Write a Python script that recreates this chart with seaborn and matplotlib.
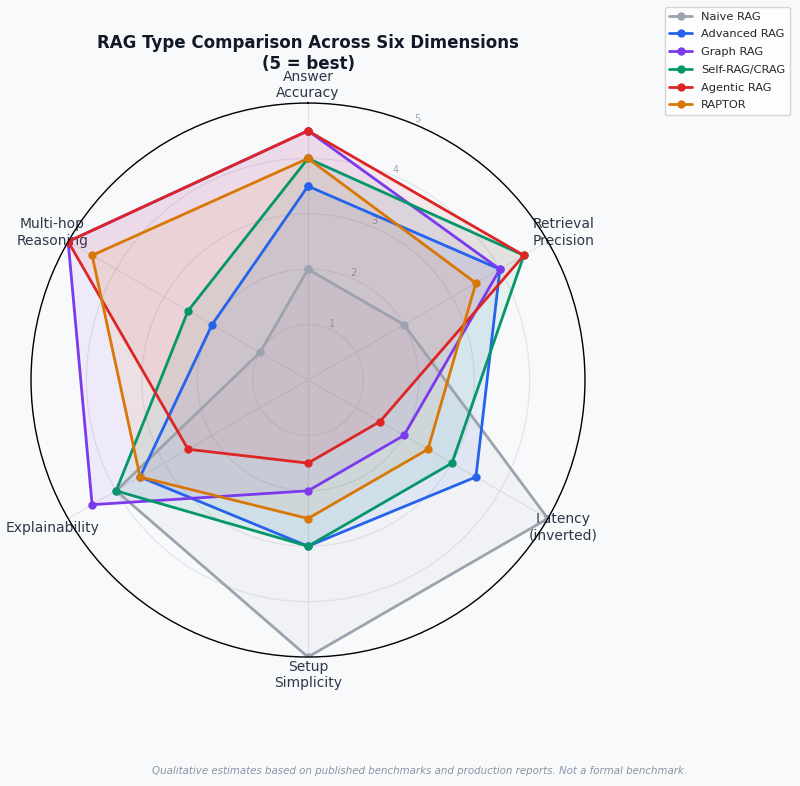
import numpy as np
import pandas as pd
import matplotlib
matplotlib.use("Agg")
import matplotlib.pyplot as plt
import seaborn as sns

# radar axes, clockwise from the top
dimensions = ['Answer\nAccuracy', 'Retrieval\nPrecision', 'Latency\n(inverted)',
              'Setup\nSimplicity', 'Explainability', 'Multi-hop\nReasoning']

rag_types = ['Naive RAG', 'Advanced RAG', 'Graph RAG', 'Self-RAG/CRAG', 'Agentic RAG', 'RAPTOR']

naive_rag = [2, 2, 5, 5, 4, 1]
advanced_rag = [3.5, 4, 3.5, 3, 3.5, 2]
graph_rag = [4.5, 4, 2, 2, 4.5, 5]
self_crag = [4, 4.5, 3, 3, 4, 2.5]
agentic_rag = [4.5, 4.5, 1.5, 1.5, 2.5, 5]
raptor = [4, 3.5, 2.5, 2.5, 3.5, 4.5]

colors = ['#9ca3af', '#2563eb', '#7c3aed', '#059669', '#dc2626', '#d97706']

scores = [naive_rag, advanced_rag, graph_rag, self_crag, agentic_rag, raptor]

bg = '#f8f9fb'
sns.set_theme(style='white')
plt.rcParams['font.family'] = ['DejaVu Sans']

angles = np.linspace(0, 2 * np.pi, len(dimensions), endpoint=False)
closed_angles = np.append(angles, angles[0])

fig = plt.figure(figsize=(8, 7.86), dpi=100, facecolor=bg)
ax = fig.add_axes([0.03875, 0.1641, 0.6925, 0.7048], projection='polar', facecolor=bg)
ax.set_theta_offset(np.pi / 2)
ax.set_theta_direction(-1)

for name, vals, c in zip(rag_types, scores, colors):
    closed = vals + vals[:1]
    df = pd.DataFrame({'theta': closed_angles, 'score': closed})
    # points sitting on the outer ring show no dot in the original
    keep = [i for i, v in enumerate(closed) if v < 5]
    sns.lineplot(data=df, x='theta', y='score', sort=False, estimator=None,
                 color=c, marker='o', markersize=6, markeredgewidth=0,
                 markevery=keep, linewidth=2, label=name, ax=ax)
    ax.fill(closed_angles, closed, color=c, alpha=0.08, zorder=1)

ax.set_ylim(0, 5)
ax.set_yticks([1, 2, 3, 4, 5])
ax.set_yticklabels(['1', '2', '3', '4', '5'], fontsize=7, color='#a3a9b5')
ax.set_xticks(angles)
ax.set_xticklabels(dimensions, fontsize=10, color='#2d3748')
ax.tick_params(axis='x', pad=0)
ax.set_xlabel('')
ax.set_ylabel('')
ax.grid(True, color='#e1e3e8', linewidth=0.8)
ax.spines['polar'].set_color('black')
ax.spines['polar'].set_linewidth(1.0)

ax.set_title('RAG Type Comparison Across Six Dimensions\n(5 = best)',
             fontsize=12, fontweight='bold', color='#111827', y=1.062, pad=0)

h, l = ax.get_legend_handles_labels()
for line in h:
    line.set_markevery(None)
ax.legend(h, l, loc='upper right', bbox_to_anchor=(790 / 800, 1 - 7 / 786),
          bbox_transform=fig.transFigure, borderaxespad=0, fontsize=8.2,
          labelspacing=0.68, frameon=True, facecolor='white', edgecolor='#cccccc')

fig.text(0.524, 1 - 771 / 786,
         'Qualitative estimates based on published benchmarks and production reports. Not a formal benchmark.',
         ha='center', va='center', fontsize=7.4, style='italic', color='#8b93a5')

fig.savefig('out.png', dpi=100, facecolor=bg)
